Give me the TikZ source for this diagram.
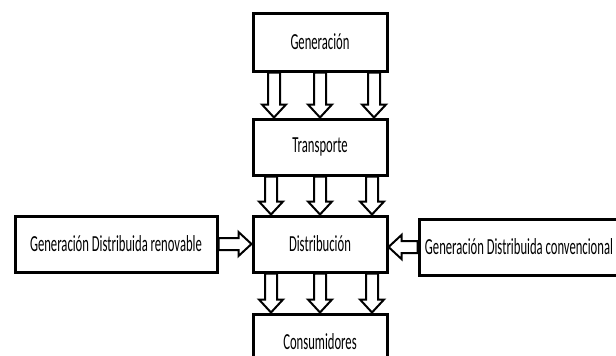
\documentclass[tikz,border=0pt]{standalone}
\usepackage{fontspec}
\usetikzlibrary{positioning,calc}
\newfontfamily\boxfont{Carlito}[FakeStretch=0.55]

\tikzset{
  bloque/.style={draw, line width=3pt, minimum width=134pt, minimum height=56pt,
    inner sep=0pt, font=\boxfont\fontsize{23}{26}\selectfont},
  flecha/.style={draw, line width=2pt, line join=miter, to path={
    let \p1=(\tikztostart), \p2=(\tikztotarget) in
    ($(\p1)!6pt!90:(\p2)$)
    -- ($($(\p2)!13pt!(\p1)$)!6pt!-90:(\p1)$)
    -- ($($(\p2)!13pt!(\p1)$)!12pt!-90:(\p1)$)
    -- (\p2)
    -- ($($(\p2)!13pt!(\p1)$)!12pt!90:(\p1)$)
    -- ($($(\p2)!13pt!(\p1)$)!6pt!90:(\p1)$)
    -- ($(\p1)!6pt!-90:(\p2)$) -- cycle}}
}

\begin{document}
\begin{tikzpicture}[x=1pt,y=-1pt]
  \useasboundingbox (0,0) rectangle (616,356);

  \node[bloque, minimum height=58pt] (gen) at (320,42) {Generación};
  \node[bloque, below=45pt of gen] (tra) {Transporte};
  \node[bloque, below=38pt of tra] (dis) {Distribución};
  \node[bloque, below=39pt of dis] (cons) {Consumidores};
  \node[bloque, minimum width=202pt, left=33pt of dis] (ren) {Generación Distribuida renovable};
  \node[bloque, minimum width=200pt, right=29pt of dis, yshift=-3pt] (conv) {Generación Distribuida convencional};

  %gen>tra>dis>cons
  \foreach \dx in {-46,0,54} {
    \draw[flecha] ([xshift=\dx pt]gen.south) to ([xshift=\dx pt]tra.north);
  }
  \foreach \dx in {-49,0,52} {
    \draw[flecha] ([xshift=\dx pt]tra.south) to ([xshift=\dx pt]dis.north);
    \draw[flecha] ([xshift=\dx pt]dis.south) to ([xshift=\dx pt]cons.north);
  }

  %ren>dis, conv>dis
  \draw[flecha] (ren.east) to (ren.east -| dis.west);
  \draw[flecha] (conv.west) to (conv.west -| dis.east);
\end{tikzpicture}
\end{document}
